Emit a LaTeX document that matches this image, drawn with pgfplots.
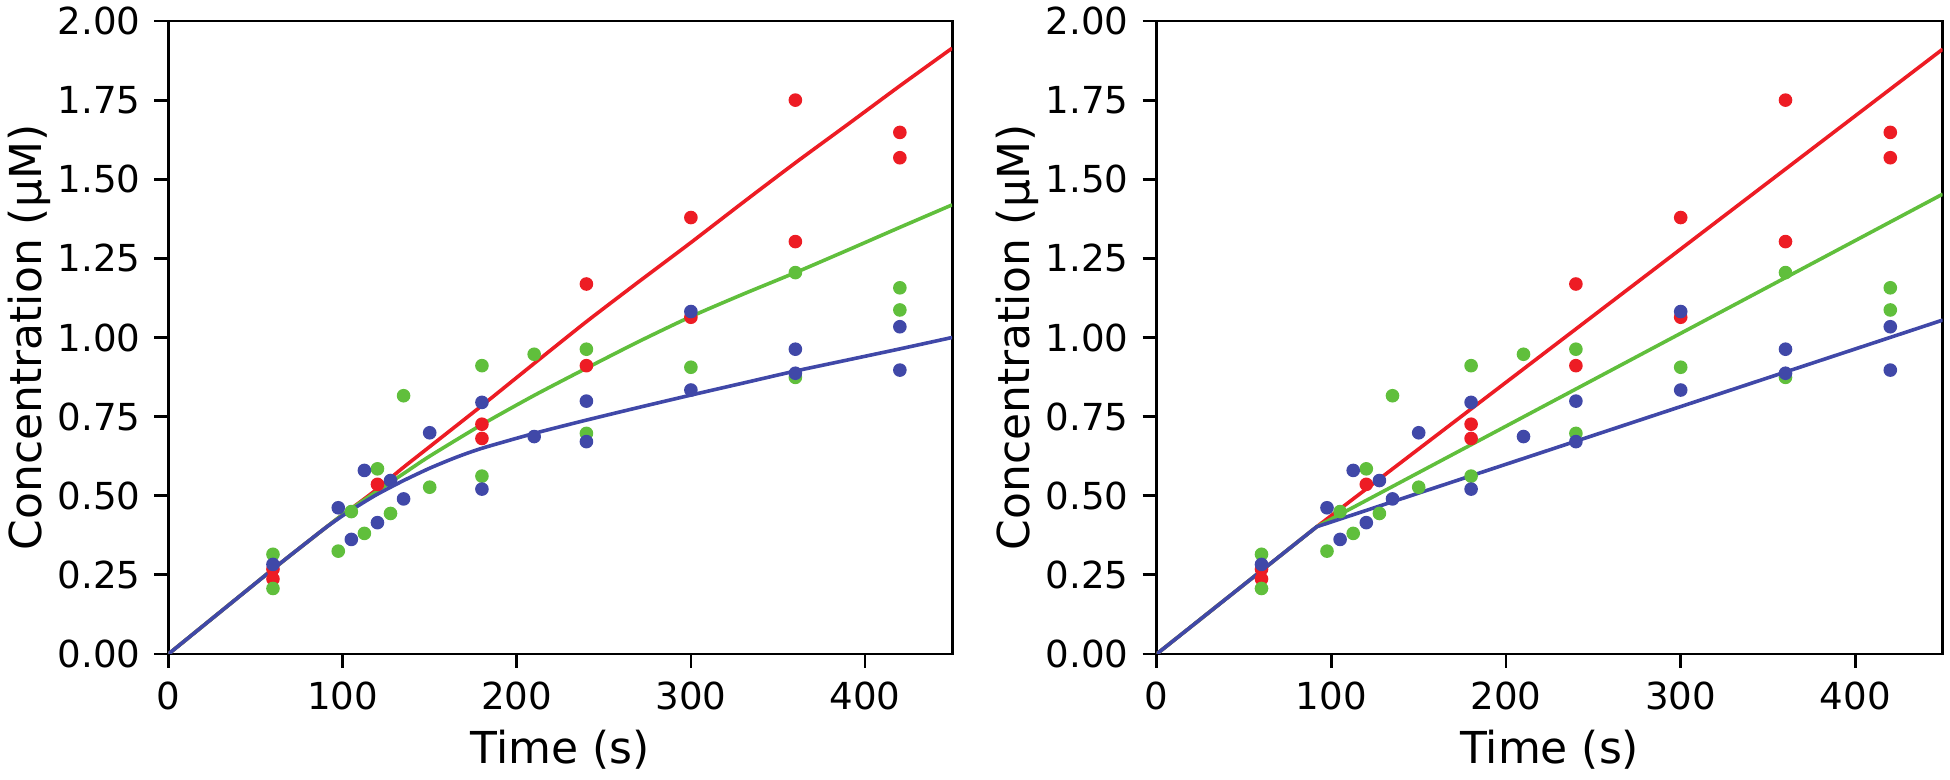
\documentclass[border=0pt]{standalone}
\usepackage{fontspec}
\setmainfont{DejaVu Sans}
\usepackage{pgfplots}
\pgfplotsset{compat=1.18}
\usepackage{pgfplotstable}

\definecolor{cred}{RGB}{237,28,36}
\definecolor{cgreen}{RGB}{96,191,60}
\definecolor{cblue}{RGB}{64,72,168}

\pgfplotstableread{
t y
60 0.268
60 0.237
120 0.536
180 0.726
180 0.681
240 1.169
240 0.911
300 1.379
300 1.064
360 1.750
360 1.303
420 1.648
420 1.568
}\redpts

\pgfplotstableread{
t y
60 0.315
60 0.207
97.5 0.325
105 0.450
112.5 0.381
120 0.585
127.5 0.444
135 0.816
150 0.527
180 0.911
180 0.562
210 0.947
240 0.963
240 0.697
300 0.906
360 1.205
360 0.874
420 1.157
420 1.087
}\greenpts

\pgfplotstableread{
t y
60 0.283
97.5 0.462
105 0.362
112.5 0.580
120 0.415
127.5 0.548
135 0.490
150 0.699
180 0.795
180 0.521
210 0.687
240 0.799
240 0.671
300 1.082
300 0.834
360 0.963
360 0.887
420 1.034
420 0.897
}\bluepts

\pgfplotsset{
  mystyle/.style={
    scale only axis,
    height=158.25pt,
    xmin=0, xmax=450, ymin=0, ymax=2,
    xtick={0,100,200,300,400},
    ytick={0,0.25,0.5,0.75,1,1.25,1.5,1.75,2},
    tick align=outside, tick pos=left,
    major tick length=3.5pt,
    axis line style={line width=0.7pt},
    every tick/.style={black, line width=0.7pt},
    yticklabel style={/pgf/number format/.cd, fixed, fixed zerofill, precision=2},
    /pgf/number format/assume math mode=true,
    tick label style={font=\fontsize{9.3}{11}\selectfont},
    label style={font=\fontsize{11}{13}\selectfont},
    xlabel={Time (s)},
    ylabel={Concentration (µM)},
    xlabel style={at={(axis description cs:0.5,-0.1517)}, anchor=center},
    ylabel style={at={(axis description cs:-0.177,0.5)}, anchor=center},
    fitline/.style={line width=0.9pt, no markers},
    dots/.style={only marks, mark=*, mark size=1.5pt},
  }
}

\begin{document}
\begin{tikzpicture}
\path[use as bounding box] (0,0) rectangle (487.5pt,195pt);

% Left panel
\begin{axis}[mystyle, width=195.9pt, at={(42.125pt,31.5pt)}, anchor=south west]
\addplot[fitline, cred, smooth, tension=0.4] coordinates {
(0,0) (60,0.268) (90,0.398) (100,0.44) (110,0.48) (120,0.522)
(135,0.59) (150,0.655) (180,0.785) (210,0.918) (240,1.05) (270,1.176)
(300,1.30) (330,1.427) (360,1.552) (390,1.673) (420,1.795) (450,1.914)};
\addplot[fitline, cgreen, smooth, tension=0.4] coordinates {
(0,0) (60,0.268) (90,0.398) (100,0.44) (110,0.478) (120,0.515)
(135,0.57) (150,0.625) (180,0.725) (210,0.817) (240,0.903) (270,0.987)
(300,1.066) (330,1.137) (360,1.205) (390,1.276) (420,1.348) (450,1.419)};
\addplot[fitline, cblue, smooth, tension=0.4] coordinates {
(0,0) (60,0.268) (80,0.355) (90,0.398) (100,0.437) (110,0.472) (120,0.505)
(135,0.548) (150,0.587) (165,0.621) (180,0.65) (210,0.697) (240,0.739)
(270,0.779) (300,0.818) (330,0.856) (360,0.894) (390,0.929) (420,0.964) (450,1.0)};
\addplot[dots, cred] table[x=t, y=y] {\redpts};
\addplot[dots, cgreen] table[x=t, y=y] {\greenpts};
\addplot[dots, cblue] table[x=t, y=y] {\bluepts};
\end{axis}

% Right panel
\begin{axis}[mystyle, width=196.5pt, at={(289.175pt,31.5pt)}, anchor=south west]
\addplot[fitline, cred] coordinates {(0,0) (91.6,0.402) (450,1.911)};
\addplot[fitline, cgreen] coordinates {(0,0) (91.6,0.402) (450,1.453)};
\addplot[fitline, cblue] coordinates {(0,0) (91.6,0.402) (450,1.055)};
\addplot[dots, cred] table[x=t, y=y] {\redpts};
\addplot[dots, cgreen] table[x=t, y=y] {\greenpts};
\addplot[dots, cblue] table[x=t, y=y] {\bluepts};
\end{axis}
\end{tikzpicture}
\end{document}
